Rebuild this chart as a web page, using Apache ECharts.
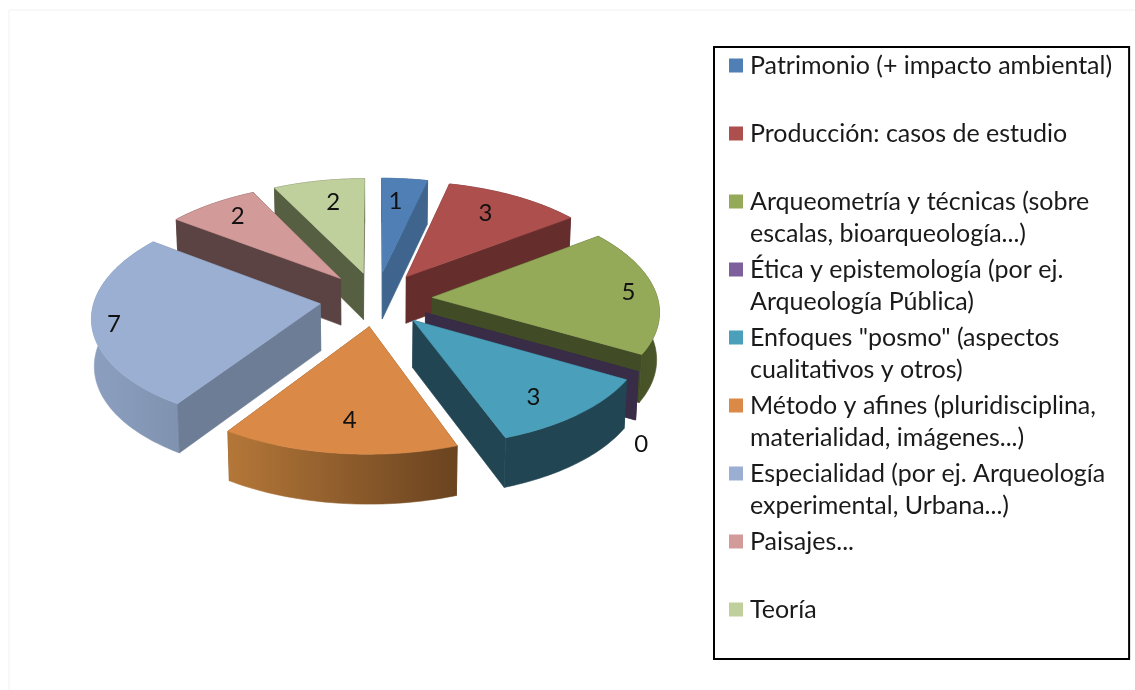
<!DOCTYPE html>
<html>
<head>
    <meta charset="utf-8">
    <title>ECharts</title>
    <script src="https://cdn.jsdelivr.net/npm/echarts@6/dist/echarts.min.js"></script>
    <style>
        html, body { margin: 0; padding: 0; background: #fff; }
    </style>
</head>
<body>
    <div id="main" style="width: 1135px;height:690px;"></div>
    <script type="text/javascript">
        var categories = [
            'Patrimonio (+ impacto ambiental)',
            'Producción: casos de estudio',
            'Arqueometría y técnicas (sobre\nescalas, bioarqueología...)',
            'Ética y epistemología (por ej.\nArqueología Pública)',
            'Enfoques "posmo" (aspectos\ncualitativos y otros)',
            'Método y afines (pluridisciplina,\nmaterialidad, imágenes...)',
            'Especialidad (por ej. Arqueología\nexperimental, Urbana...)',
            'Paisajes...',
            'Teoría'
        ];
        var values = [1, 3, 5, 0, 3, 4, 7, 2, 2];

        // colores: cara superior, paredes rectas, pared curva (izq -> der)
        var topColors = ['#4f7fb4', '#ac4f4d', '#94aa59', '#7d5f9b', '#4a9fba', '#da8a46', '#9bafd2', '#d29a98', '#bfd09d'];
        var wallColors = ['#3f648e', '#652e2d', '#414c26', '#382c47', '#214552', '#74481f', '#6d7d96', '#5c4343', '#575f43'];
        var curveColors = [
            ['#3f648e', '#3f648e'], ['#652e2d', '#652e2d'], ['#414c26', '#4a5628'], ['#382c47', '#382c47'], ['#214552', '#214552'],
            ['#b47738', '#6a4320'], ['#8c9fc0', '#7f93b0'], ['#5c4343', '#5c4343'], ['#575f43', '#575f43']
        ];

        // etiqueta: radio relativo y desplazamiento en px
        var labelRadius = [0.74, 0.72, 0.87, 1.0, 0.74, 0.72, 0.93, 0.78, 0.77];
        var labelDx = [-4, -1, 2, 3, 1, 2, 6, -1, 5];
        var labelDy = [0, -4, 0, 73, 9, 5, 3, -3, 2];

        var total = values.reduce(function (a, b) { return a + b; }, 0);

        // proyeccion en perspectiva del disco
        var cx = 376, cy = 299;
        var fx = 225.5, fy = 108.8;
        var kx = 0.11, ky = 0.1;
        var explode = 0.25;

        function project(X, Y) {
            return [cx + fx * X / (1 + kx * Y), cy - fy * Y / (1 + ky * Y)];
        }

        function dropped(X, Y) {
            var p = project(X, Y);
            return [cx + (p[0] - cx) * 0.99, p[1] + 47 * (1 - 0.05 * Y)];
        }

        function face(pts, fill) {
            return {
                type: 'polygon',
                shape: {points: pts},
                style: {fill: fill, stroke: fill, lineWidth: 0.6}
            };
        }

        function meanY(pts) {
            return pts.reduce(function (a, p) { return a + p[1]; }, 0) / pts.length;
        }

        function sliceItem(index) {
            return function (params, api) {
                var before = values.slice(0, index).reduce(function (a, b) { return a + b; }, 0);
                var a0 = before / total * Math.PI * 2;
                var a1 = (before + api.value(0)) / total * Math.PI * 2;
                var mid = (a0 + a1) / 2;
                var ox = explode * Math.sin(mid), oy = explode * Math.cos(mid);

                var rimTop = [], rimBottom = [];
                var steps = Math.max(1, Math.round((a1 - a0) / 0.02));
                for (var s = 0; s <= steps; s++) {
                    var a = a0 + (a1 - a0) * s / steps;
                    var X = ox + Math.sin(a), Y = oy + Math.cos(a);
                    rimTop.push(project(X, Y));
                    rimBottom.push(dropped(X, Y));
                }
                var apexTop = project(ox, oy), apexBottom = dropped(ox, oy);

                var walls = [
                    [apexTop, rimTop[0], rimBottom[0], apexBottom],
                    [apexTop, rimTop[steps], rimBottom[steps], apexBottom],
                    rimTop.concat(rimBottom.slice().reverse())
                ];
                var fills = [
                    wallColors[index],
                    wallColors[index],
                    new echarts.graphic.LinearGradient(0, 0, 1, 0, [
                        {offset: 0, color: curveColors[index][0]},
                        {offset: 1, color: curveColors[index][1]}
                    ])
                ];
                var order = [0, 1, 2].sort(function (m, n) {
                    return meanY(walls[m]) - meanY(walls[n]);
                });

                var children = order.map(function (k) {
                    return face(walls[k], fills[k]);
                });
                if (a1 > a0) {
                    children.push(face([apexTop].concat(rimTop), topColors[index]));
                }

                var lr = labelRadius[index];
                var lp = project(ox + lr * Math.sin(mid), oy + lr * Math.cos(mid));
                children.push({
                    type: 'text',
                    style: {
                        text: String(api.value(0)),
                        x: lp[0] + labelDx[index],
                        y: lp[1] + labelDy[index],
                        align: 'center',
                        verticalAlign: 'middle',
                        fill: '#111',
                        font: '24px Lato'
                    }
                });
                return {type: 'group', children: children};
            };
        }

        // orden de pintado: de atras hacia adelante
        function depthOf(index) {
            var before = values.slice(0, index).reduce(function (a, b) { return a + b; }, 0);
            return Math.cos((before + values[index] / 2) / total * Math.PI * 2);
        }
        var paintOrder = categories.map(function (c, i) { return i; }).sort(function (a, b) {
            return depthOf(b) - depthOf(a);
        });

        var rich = {
            g: {width: 7},
            p: {width: 21},
            t: {fontFamily: 'Lato', fontSize: 25, lineHeight: 32, color: '#1a1a1a'}
        };
        topColors.forEach(function (c, i) {
            rich['a' + i] = {backgroundColor: c, width: 14, height: 14};
        });

        var myChart = echarts.init(document.getElementById('main'));

        myChart.setOption({
            animation: false,
            backgroundColor: '#fff',
            legend: {
                orient: 'vertical',
                left: 714,
                top: 47,
                padding: [6, 17, 5, 10],
                itemGap: 11,
                itemWidth: 0,
                itemHeight: 0,
                selectedMode: false,
                borderColor: '#000',
                borderWidth: 2,
                data: categories,
                formatter: function (name) {
                    var i = categories.indexOf(name);
                    var lines = name.split('\n');
                    return '{a' + i + '|}{g|}{t|' + lines[0] + '}\n{p|}{t|' + (lines[1] || ' ') + '}';
                },
                textStyle: {rich: rich}
            },
            graphic: [
                {type: 'line', shape: {x1: 9, y1: 10, x2: 1135, y2: 10}, style: {stroke: '#f8f8f8', lineWidth: 2}},
                {type: 'line', shape: {x1: 9, y1: 10, x2: 9, y2: 690}, style: {stroke: '#f8f8f8', lineWidth: 2}}
            ],
            series: categories.map(function (name, i) {
                return {
                    type: 'custom',
                    name: name,
                    coordinateSystem: 'none',
                    z: 2 + paintOrder.indexOf(i),
                    itemStyle: {color: topColors[i]},
                    renderItem: sliceItem(i),
                    data: [[values[i]]]
                };
            })
        });
    </script>
</body>
</html>
